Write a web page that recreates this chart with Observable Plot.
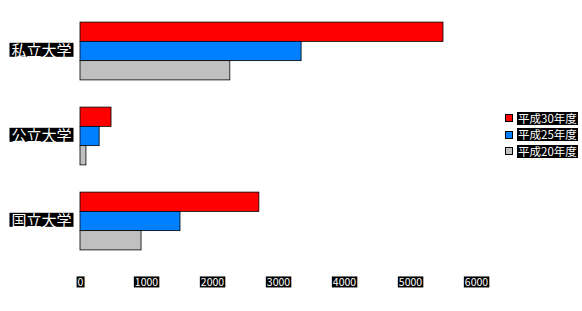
<!DOCTYPE html>
<html>
<head>
<meta charset="utf-8">
<script src="https://cdn.jsdelivr.net/npm/d3@7"></script>
<script src="https://cdn.jsdelivr.net/npm/@observablehq/plot@0.6"></script>
<style>
  html, body { margin: 0; padding: 0; background: #fff; overflow: hidden; }
  #wrap { position: relative; width: 582px; height: 311px; }
  #legend { position: absolute; left: 505px; top: 110px; font-family: "Noto Sans CJK JP", sans-serif; font-size: 11.5px; white-space: nowrap; }
  .row { display: flex; align-items: center; height: 16.5px; }
  .sw { width: 6px; height: 6px; border: 1px solid #000; margin-right: 4px; box-sizing: content-box; flex: none; }
  .lb { display: inline-block; background: #000; color: #fff; height: 13px; line-height: 13px; padding: 0 1px; }
</style>
</head>
<body>
<div id="wrap"></div>
<script>
const categories = ["私立大学", "公立大学", "国立大学"];
const seriesNames = ["平成30年度", "平成25年度", "平成20年度"];
const seriesColors = ["#ff0000", "#0080ff", "#c0c0c0"];
const valuesSeries1 = [5500, 470, 2710];
const valuesSeries2 = [3350, 290, 1515];
const valuesSeries3 = [2270, 90, 925];
const xTicks = [0, 1000, 2000, 3000, 4000, 5000, 6000];

const allValues = [valuesSeries1, valuesSeries2, valuesSeries3];
const rows = [];
allValues.forEach((vals, si) => {
  vals.forEach((v, ci) => rows.push({category: categories[ci], series: seriesNames[si], value: v, si}));
});

const marginTop = 8.5, marginBottom = 47.5;
const bandwidth = (311 - marginTop - marginBottom) / 3 * (1 - 0.32);
const sub = bandwidth / 3;

const marks = seriesNames.map((s, i) => Plot.barX(rows.filter(d => d.si === i), {
  x: "value", y: "category", fill: seriesColors[i],
  stroke: "#000", strokeWidth: 0.8,
  insetTop: i * sub, insetBottom: (2 - i) * sub
}));

const chart = Plot.plot({
  width: 582,
  height: 311,
  marginLeft: 80,
  marginRight: 106,
  marginTop,
  marginBottom,
  style: {fontFamily: "'Noto Sans CJK JP', sans-serif", background: "white"},
  x: {domain: [0, 6000], label: null},
  y: {domain: categories, paddingInner: 0.32, paddingOuter: 0.16, round: false, label: null},
  marks: [
    ...marks,
    Plot.axisY({tickSize: 0, tickPadding: 9, fontSize: 15, fill: "white", label: null}),
    Plot.axisX({ticks: xTicks, tickFormat: d => String(d), tickSize: 0, tickPadding: 15, fontSize: 10.5, fill: "white", label: null})
  ]
});

document.getElementById("wrap").appendChild(chart);

function addBoxes(selector, h, padX) {
  chart.querySelectorAll(selector).forEach(t => {
    const bb = t.getBBox();
    const r = document.createElementNS("http://www.w3.org/2000/svg", "rect");
    r.setAttribute("x", bb.x - padX);
    r.setAttribute("y", bb.y + bb.height / 2 - h / 2);
    r.setAttribute("width", bb.width + 2 * padX);
    r.setAttribute("height", h);
    r.setAttribute("fill", "#000");
    r.setAttribute("stroke", "none");
    const tr = t.getAttribute("transform");
    if (tr) r.setAttribute("transform", tr);
    t.parentNode.insertBefore(r, t);
  });
}
addBoxes('[aria-label="y-axis tick label"] text', 14, 2);
addBoxes('[aria-label="x-axis tick label"] text', 11, 1);

const legend = document.createElement("div");
legend.id = "legend";
seriesNames.forEach((s, i) => {
  const row = document.createElement("div");
  row.className = "row";
  const sw = document.createElement("div");
  sw.className = "sw";
  sw.style.background = seriesColors[i];
  const lb = document.createElement("span");
  lb.className = "lb";
  lb.textContent = s;
  row.appendChild(sw);
  row.appendChild(lb);
  legend.appendChild(row);
});
document.getElementById("wrap").appendChild(legend);
</script>
</body>
</html>
